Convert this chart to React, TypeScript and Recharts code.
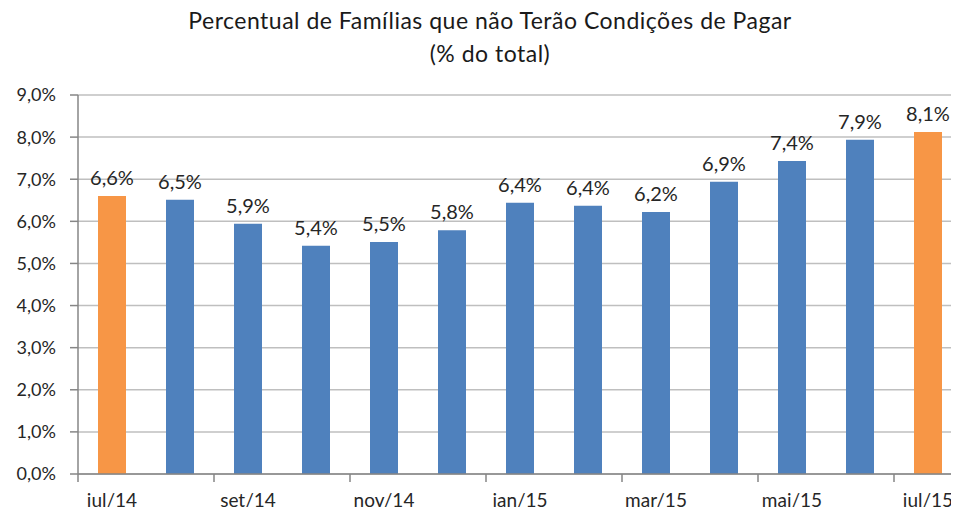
import React from "react";
import {
  BarChart,
  Bar,
  XAxis,
  YAxis,
  CartesianGrid,
  Cell,
  LabelList,
} from "recharts";

const months = [
  "jul/14", "ago/14", "set/14", "out/14", "nov/14", "dez/14", "jan/15",
  "fev/15", "mar/15", "abr/15", "mai/15", "jun/15", "jul/15",
];
const percents = [6.6, 6.51, 5.94, 5.42, 5.51, 5.79, 6.44, 6.37, 6.22, 6.94, 7.43, 7.94, 8.12];
const highlighted = ["jul/14", "jul/15"];
const yTicks = [0, 1, 2, 3, 4, 5, 6, 7, 8, 9];

const BLUE = "#4F81BD";
const ORANGE = "#F79646";
const FONT = "Lato, 'Open Sans', sans-serif";

const data = months.map((m, i) => ({ month: m, value: percents[i] }));

const fmt = (v: number) => v.toFixed(1).replace(".", ",") + "%";

// tick mark sits on the category boundary, label on the category centre
const MonthTick = (props: any) => {
  const { x, y, payload } = props;
  const half = payload && payload.offset ? payload.offset : 34;
  return (
    <g>
      <line x1={x - half} x2={x - half} y1={y} y2={y + 8} stroke="#868686" strokeWidth={1.5} />
      <text x={x} y={y + 33} textAnchor="middle" fill="#262626" fontSize={19} fontFamily={FONT}>
        {payload.value}
      </text>
    </g>
  );
};

export default function App() {
  return (
    <div style={{ margin: -8, width: 959, height: 515, overflow: "hidden", position: "relative", background: "#fff" }}>
      <div
        style={{
          position: "absolute",
          left: 0,
          width: 980,
          top: 4,
          textAlign: "center",
          fontFamily: FONT,
          fontSize: 23,
          letterSpacing: 0.5,
          color: "#1a1a1a",
          lineHeight: "33px",
        }}
      >
        Percentual de Famílias que não Terão Condições de Pagar
        <br />
        (% do total)
      </div>
      <BarChart
        width={970}
        height={515}
        data={data}
        margin={{ top: 95, right: 8, left: 0, bottom: 0 }}
        barCategoryGap={20}
      >
        <CartesianGrid vertical={false} stroke="#BFBFBF" strokeWidth={1.5} />
        <XAxis
          dataKey="month"
          interval={1}
          height={41}
          tickLine={false}
          tickSize={0}
          tickMargin={0}
          axisLine={{ stroke: "#868686", strokeWidth: 1.5 }}
          tick={<MonthTick />}
        />
        <YAxis
          domain={[0, 9]}
          ticks={yTicks}
          width={78}
          tickSize={8}
          tickMargin={14}
          tickFormatter={fmt}
          tickLine={{ stroke: "#868686", strokeWidth: 1.5 }}
          axisLine={{ stroke: "#868686", strokeWidth: 1.5 }}
          tick={{ fill: "#262626", fontSize: 18, fontFamily: FONT }}
        />
        <Bar dataKey="value" barSize={28} isAnimationActive={false}>
          {data.map((d, i) => (
            <Cell key={`cell-${i}`} fill={highlighted.includes(d.month) ? ORANGE : BLUE} />
          ))}
          <LabelList
            dataKey="value"
            position="top"
            offset={11}
            formatter={(v: any) => fmt(Number(v))}
            style={{ fill: "#262626", fontSize: 20, fontFamily: FONT }}
          />
        </Bar>
      </BarChart>
    </div>
  );
}
